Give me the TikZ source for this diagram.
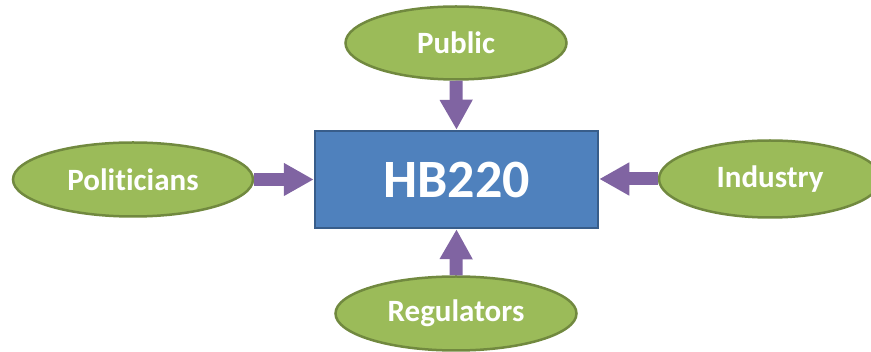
\documentclass[tikz,border=0pt]{standalone}
\usepackage{fontspec}
\setmainfont[Ligatures=NoCommon]{Carlito}
\usetikzlibrary{shapes.geometric,arrows.meta}
\definecolor{olivefill}{HTML}{9BBB59}
\definecolor{oliveline}{HTML}{71893F}
\definecolor{bluefill}{HTML}{4F81BD}
\definecolor{blueline}{HTML}{385D8A}
\definecolor{purp}{HTML}{8064A2}
\tikzset{
  actor/.style={ellipse, draw=oliveline, fill=olivefill, line width=2.5pt, inner sep=0pt,
    text=white, font=\bfseries\fontsize{31}{36}\selectfont},
  hub/.style={rectangle, draw=blueline, fill=bluefill, line width=2.5pt, inner sep=0pt,
    minimum width=283pt, minimum height=97pt, text=white, font=\bfseries\fontsize{54}{60}\selectfont},
  flow/.style={draw=purp, line width=13pt, -{Triangle[width=31pt,length=30pt]}}
}
\begin{document}
\begin{tikzpicture}[x=1pt,y=-1pt]
\useasboundingbox (0,0) rectangle (871,352);
\clip (0,0) rectangle (871,352);
\node[hub] (hb) at (456.5,179.5) {HB220};
\node[actor, minimum width=221pt, minimum height=73pt] (pub) at (456,43) {Public};
\node[actor, minimum width=240pt, minimum height=74pt] (pol) at (133,179.5) {Politicians};
\node[actor, minimum width=222pt, minimum height=77pt] (ind) at (770,179) {Industry};
\node[actor, minimum width=241pt, minimum height=74pt] (reg) at (456,313.5) {Regulators};
\draw[flow] (pub.south) -- (hb.north);
\draw[flow] (pol.east) -- (hb.west);
\draw[flow] (ind.west) -- (ind.west -| hb.east);
\draw[flow] (reg.north) -- (hb.south);
\end{tikzpicture}
\end{document}
